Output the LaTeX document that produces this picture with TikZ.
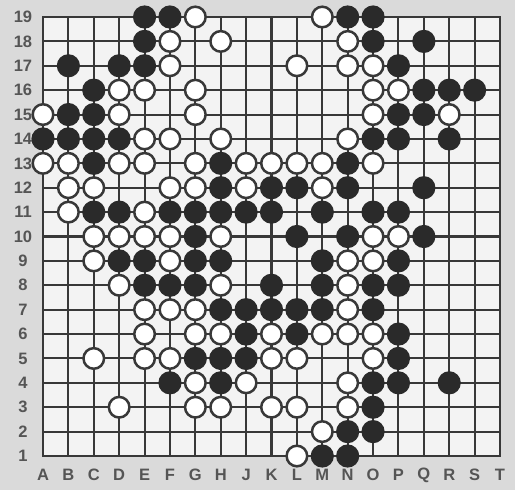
\documentclass[tikz,border=0pt]{standalone}
\usepackage{fontspec}
\setmainfont{Liberation Sans}
\definecolor{bgc}{HTML}{DADADA}
\definecolor{boardc}{HTML}{F3F3F3}
\definecolor{gridc}{HTML}{383838}
\definecolor{blkc}{HTML}{2A2A2A}
\definecolor{lblc}{HTML}{555555}
\tikzset{
  gridline/.style={draw=gridc, line width=2.1pt},
  blackstone/.style={fill=blkc},
  whitestone/.style={fill=white, draw=gridc, line width=2.5pt},
  lbl/.style={text=lblc, font=\fontsize{16.5}{16.5}\selectfont\bfseries, inner sep=0pt}
}
\begin{document}
\begin{tikzpicture}[x=1pt,y=-1pt]
\fill[bgc] (0,0) rectangle (515,490);
\useasboundingbox (0,0) rectangle (515,490);
\fill[boardc] (43,17) rectangle (500,456);
% grid
\foreach \i in {0,...,18} {
  \draw[gridline] ({43+25.389*\i},17) -- ({43+25.389*\i},456);
  \draw[gridline] (43,{17+24.389*\i}) -- (500,{17+24.389*\i});
}
\draw[gridline, line cap=rect] (43,17) rectangle (500,456);
% named points
\foreach \cl [count=\i] in {A,B,C,D,E,F,G,H,J,K,L,M,N,O,P,Q,R,S,T} {
  \foreach \r in {1,...,19} {
    \coordinate (\cl\r) at ({43+25.389*(\i-1)},{17+24.389*(19-\r)});
  }
  \node[lbl] (col\cl) at ({43+25.389*(\i-1)},475) {\cl};
}
\foreach \r in {1,...,19} {
  \node[lbl] (row\r) at (23,{17+24.389*(19-\r)}) {\r};
}
% black stones
\foreach \p in {
  E19,F19,N19,O19,
  E18,O18,Q18,
  B17,D17,E17,P17,
  C16,Q16,R16,S16,
  B15,C15,P15,Q15,
  A14,B14,C14,D14,O14,P14,R14,
  C13,H13,N13,
  H12,K12,L12,N12,Q12,
  C11,D11,F11,G11,H11,J11,K11,M11,O11,P11,
  G10,L10,N10,Q10,
  D9,E9,G9,H9,M9,P9,
  E8,F8,G8,K8,M8,O8,P8,
  H7,J7,K7,L7,M7,O7,
  J6,L6,P6,
  G5,H5,J5,P5,
  F4,H4,O4,P4,R4,
  O3,
  N2,O2,
  M1,N1}
  \fill[blackstone] (\p) circle (11.6);
% white stones
\foreach \p in {
  G19,M19,
  F18,H18,N18,
  F17,L17,N17,O17,
  D16,E16,G16,O16,P16,
  A15,D15,G15,O15,R15,
  E14,F14,H14,N14,
  A13,B13,D13,E13,G13,J13,K13,L13,M13,O13,
  B12,C12,F12,G12,J12,M12,
  B11,E11,
  C10,D10,E10,F10,H10,O10,P10,
  C9,F9,N9,O9,
  D8,H8,N8,
  E7,F7,G7,N7,
  E6,G6,H6,K6,M6,N6,O6,
  C5,E5,F5,K5,L5,O5,
  G4,J4,N4,
  D3,G3,H3,K3,L3,N3,
  M2,
  L1}
  \draw[whitestone] (\p) circle (10.3);
\end{tikzpicture}
\end{document}
